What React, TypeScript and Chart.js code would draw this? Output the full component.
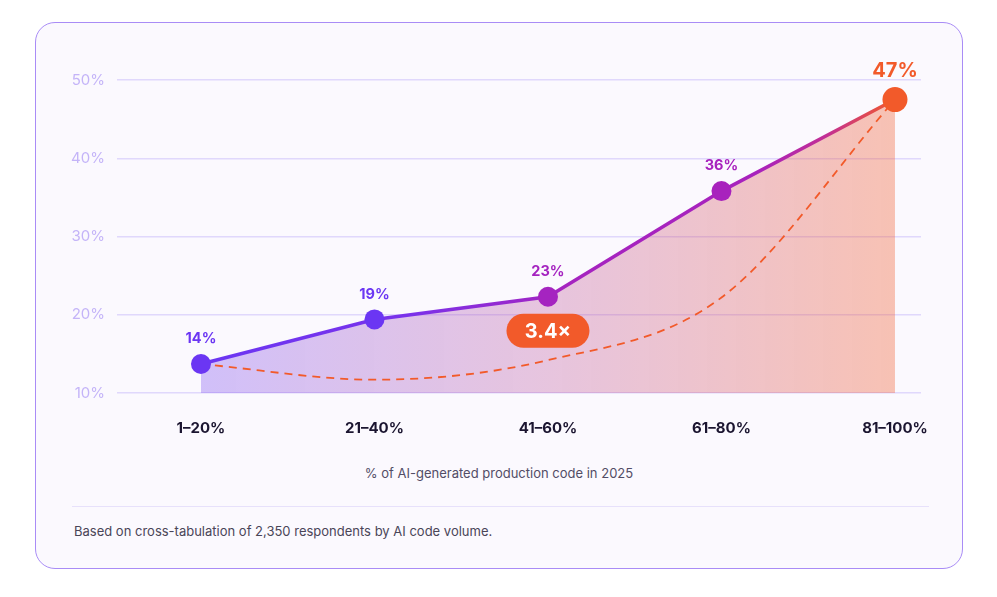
import { useEffect, useRef } from "react";
import { Chart, registerables } from "chart.js";

Chart.register(...registerables);

// data
const categories = ["1–20%", "21–40%", "41–60%", "61–80%", "81–100%"];
const shareValues = [13.7, 19.4, 22.3, 35.8, 47.5];
const shareLabels = ["14%", "19%", "23%", "36%", "47%"];
const trendValues = [13.7, 11.7, 14.2, 22.2, 47.5];
const yTicks = [10, 20, 30, 40, 50];
const multiplierLabel = "3.4×";
const axisTitle = "% of AI-generated production code in 2025";
const footnote = "Based on cross-tabulation of 2,350 respondents by AI code volume.";

const FONT = "Inter, 'Noto Sans', sans-serif";
const pointColors = ["#6b36f3", "#6b36f3", "#a524c0", "#a822bd", "#f25a2a"];
const ORANGE = "#f25a2a";

const annotate = {
  id: "annotate",
  afterDatasetsDraw(chart: any) {
    const ctx = chart.ctx;
    const meta = chart.getDatasetMeta(0);
    meta.data.forEach((pt: any, i: number) => {
      const last = i === meta.data.length - 1;
      ctx.save();
      ctx.font = `700 ${last ? 20 : 14.5}px ${FONT}`;
      ctx.fillStyle = pointColors[i];
      ctx.textAlign = "center";
      ctx.textBaseline = "middle";
      ctx.fillText(shareLabels[i], pt.x, pt.y - (last ? 29 : 25));
      ctx.restore();
    });

    // multiplier badge under the middle point
    const p = meta.data[2];
    const w = 83;
    const h = 34;
    const cx = p.x;
    const cy = p.y + 34;
    ctx.save();
    ctx.beginPath();
    ctx.roundRect(cx - w / 2, cy - h / 2, w, h, h / 2);
    ctx.fillStyle = ORANGE;
    ctx.fill();
    ctx.font = `700 20px ${FONT}`;
    ctx.fillStyle = "#ffffff";
    ctx.textAlign = "center";
    ctx.textBaseline = "middle";
    ctx.fillText(multiplierLabel, cx, cy + 1);
    ctx.restore();
  },
};

function lineGradient(c: any) {
  const chart = c.chart;
  const x = chart.scales.x;
  if (!x || !chart.chartArea) return "#8b2fe0";
  const g = chart.ctx.createLinearGradient(
    x.getPixelForValue(0), 0, x.getPixelForValue(categories.length - 1), 0
  );
  g.addColorStop(0, "#6b36f3");
  g.addColorStop(0.3, "#7a32ea");
  g.addColorStop(0.52, "#a524c0");
  g.addColorStop(0.8, "#a822bd");
  g.addColorStop(0.9, "#c22f95");
  g.addColorStop(1, "#f25a2a");
  return g;
}

function fillGradient(c: any) {
  const chart = c.chart;
  const x = chart.scales.x;
  if (!x || !chart.chartArea) return "rgba(170,90,180,0.3)";
  const g = chart.ctx.createLinearGradient(
    x.getPixelForValue(0), 0, x.getPixelForValue(categories.length - 1), 0
  );
  g.addColorStop(0, "rgba(120,70,240,0.32)");
  g.addColorStop(0.5, "rgba(185,75,150,0.3)");
  g.addColorStop(1, "rgba(242,90,42,0.35)");
  return g;
}

function ShareChart() {
  const canvasRef = useRef<HTMLCanvasElement | null>(null);

  useEffect(() => {
    if (!canvasRef.current) return;

    const chart = new Chart(canvasRef.current, {
      type: "line",
      data: {
        datasets: [
          {
            label: "Share",
            data: shareValues.map((v, i) => ({ x: i, y: v })),
            borderColor: lineGradient,
            backgroundColor: fillGradient,
            borderWidth: 3.5,
            fill: "start",
            tension: 0,
            pointRadius: [10, 10, 10, 10, 12.5],
            pointHoverRadius: [10, 10, 10, 10, 12.5],
            pointBackgroundColor: pointColors,
            pointBorderWidth: 0,
            clip: false,
            order: 0,
          },
          {
            label: "Trend",
            data: trendValues.map((v, i) => ({ x: i, y: v })),
            borderColor: ORANGE,
            borderWidth: 1.8,
            borderDash: [8, 6],
            fill: false,
            cubicInterpolationMode: "monotone",
            pointRadius: 0,
            clip: false,
            order: 1,
          },
        ],
      },
      options: {
        animation: false,
        responsive: true,
        maintainAspectRatio: false,
        layout: { padding: { top: 56, right: 41, left: 0, bottom: 0 } },
        plugins: {
          legend: { display: false },
          tooltip: { enabled: false },
          filler: { drawTime: "beforeDatasetsDraw" },
        } as any,
        scales: {
          x: {
            type: "linear",
            min: -0.484,
            max: 4.15,
            afterBuildTicks: (scale: any) => {
              scale.ticks = categories.map((_, i) => ({ value: i }));
            },
            afterFit: (scale: any) => {
              scale.height = 51;
            },
            ticks: {
              autoSkip: false,
              maxRotation: 0,
              padding: 26,
              color: "#1b1530",
              font: { family: FONT, size: 15, weight: "bold" },
              callback: (v: any) => categories[v] ?? "",
            },
            grid: { display: false, drawTicks: false },
            border: { display: false },
          },
          y: {
            min: yTicks[0],
            max: yTicks[yTicks.length - 1],
            afterBuildTicks: (scale: any) => {
              scale.ticks = yTicks.map((v) => ({ value: v }));
            },
            afterFit: (scale: any) => {
              scale.width = 81;
            },
            ticks: {
              padding: 12,
              color: "#c4b4f8",
              font: { family: FONT, size: 15 },
              callback: (v: any) => `${v}%`,
            },
            grid: { color: "#e0d8fc", lineWidth: 1.5, drawTicks: false },
            border: { display: false },
          },
        },
      },
      plugins: [annotate],
    });

    return () => chart.destroy();
  }, []);

  return <canvas ref={canvasRef} />;
}

export default function App() {
  return (
    <div style={{ position: "absolute", left: 0, top: 0, width: 997, height: 597, background: "#ffffff", fontFamily: FONT }}>
      <div
        style={{
          position: "absolute",
          left: 35,
          top: 22,
          width: 928,
          height: 547,
          boxSizing: "border-box",
          border: "1.5px solid #a98cf6",
          borderRadius: 20,
          background: "#fbf9fe",
        }}
      />
      <div style={{ position: "absolute", left: 36, top: 24, width: 926, height: 420 }}>
        <ShareChart />
      </div>
      <div
        style={{
          position: "absolute",
          left: 35,
          width: 928,
          top: 464,
          textAlign: "center",
          fontSize: 13,
          lineHeight: "18px",
          color: "#524d66",
        }}
      >
        {axisTitle}
      </div>
      <div style={{ position: "absolute", left: 72, width: 857, top: 506, height: 1, background: "#e7e1fb" }} />
      <div style={{ position: "absolute", left: 74, top: 522, fontSize: 13, lineHeight: "18px", color: "#4a4558" }}>
        {footnote}
      </div>
    </div>
  );
}
